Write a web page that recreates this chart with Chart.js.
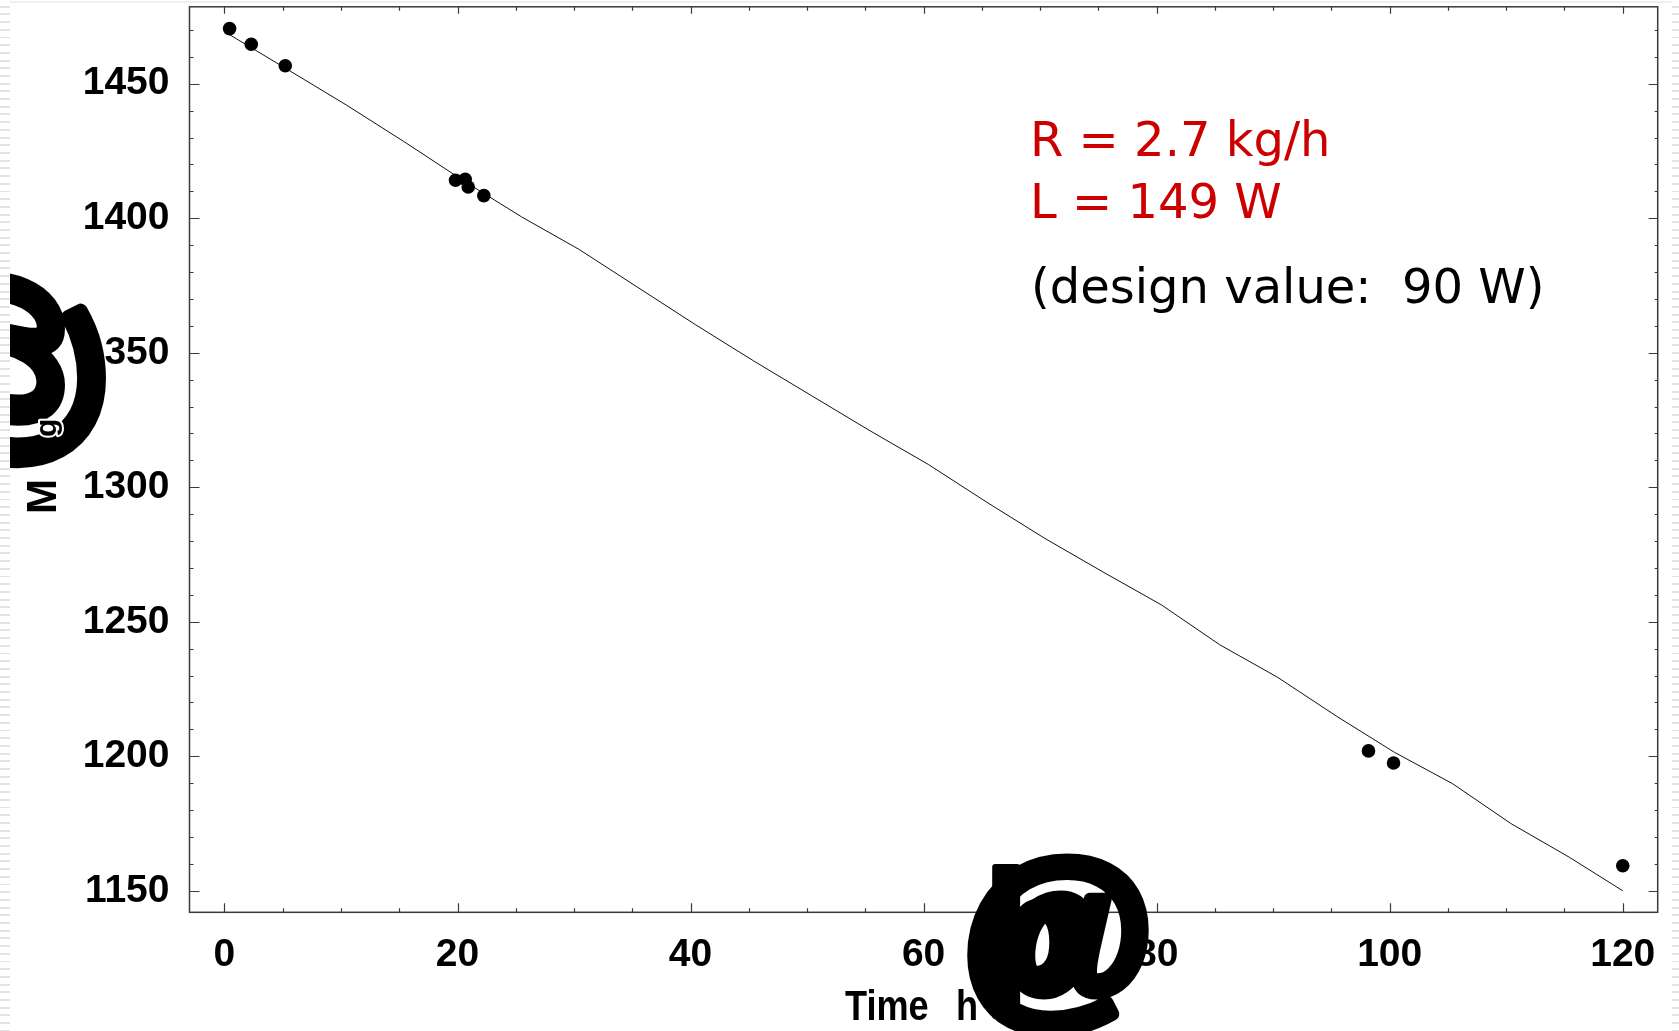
<!DOCTYPE html>
<html>
<head>
<meta charset="utf-8">
<title>Mass vs time</title>
<script src="https://cdn.jsdelivr.net/npm/chart.js@4/dist/chart.umd.min.js"></script>
<style>
  html, body { margin: 0; padding: 0; background: #fff; overflow: hidden; }
  #wrap { position: relative; width: 1679px; height: 1031px; }
  #wrap canvas { display: block; }
  .edge { position: absolute; top: 0; bottom: 0;
          background: repeating-linear-gradient(to bottom, #fff 0, #fff 5.7px, #e3e3e3 5.7px, #e3e3e3 7.7px); }
  .topline { position: absolute; left: 0; right: 0; top: 1px; height: 2px; background: #efefef; }
</style>
</head>
<body>
<div id="wrap">
  <canvas id="c" width="1679" height="1031"></canvas>
  <div class="topline"></div>
  <div class="edge" style="left:0;width:10px"></div>
  <div class="edge" style="left:1672px;width:7px"></div>
</div>
<script>
// Measured mass of the vessel (kg) against elapsed time (h)
const timeH  = [0.44, 2.30, 5.22, 19.83, 20.66, 20.92, 22.26, 98.18, 100.33, 120.0];
const massKg = [1470.5, 1464.7, 1456.7, 1414.1, 1414.5, 1411.6, 1408.4, 1202.0, 1197.5, 1159.3];

// Model curve of the mass loss
const fitTime = [0.3, 5.3, 10.5, 15.4, 20.5, 25.5, 30.4, 35.4, 40.4, 45.4, 50.4, 55.4, 60.4,
                 65.4, 70.4, 75.4, 80.4, 85.4, 90.4, 95.4, 100.4, 105.4, 110.4, 115.4, 120];
const fitMass = [1468.6, 1455.6, 1442.0, 1428.5, 1414.0, 1400.5, 1388.5, 1374.5, 1360.5, 1347.0,
                 1334.0, 1321.0, 1308.5, 1294.5, 1281.0, 1268.5, 1256.3, 1241.5, 1229.3, 1215.0,
                 1201.5, 1189.8, 1175.0, 1162.5, 1150.0];

// Axis ticks
const xTicks = [0, 20, 40, 60, 80, 100, 120];
const xMinorTicks = [5, 10, 15, 25, 30, 35, 45, 50, 55, 65, 70, 75, 85, 90, 95, 105, 110, 115];
const yTicks = [1150, 1200, 1250, 1300, 1350, 1400, 1450];
const yMinorTicks = [1160, 1170, 1180, 1190, 1210, 1220, 1230, 1240, 1260, 1270, 1280, 1290,
                     1310, 1320, 1330, 1340, 1360, 1370, 1380, 1390, 1410, 1420, 1430, 1440, 1460, 1470];

// Result annotations
const resultLines = ['R = 2.7 kg/h', 'L = 149 W'];
const noteLine = '(design value:  90 W)';

const AXIS = '#3a3a3a';
const SANS_BOLD = (s) => `bold ${s}px "Liberation Sans", Arial, sans-serif`;

// heavy glyph used where the unit brackets fell back to a symbol font
function heavyGlyph(ctx, ch, x, y, size, stroke) {
  ctx.font = SANS_BOLD(size);
  ctx.lineWidth = stroke;
  ctx.lineJoin = 'round';
  ctx.strokeStyle = '#000';
  ctx.strokeText(ch, x, y);
  ctx.fillText(ch, x, y);
}

// Frame, inward ticks, annotations and axis titles
const framePlugin = {
  id: 'frame',
  beforeDatasetsDraw(chart) {
    const { ctx, chartArea: a, scales: { x, y } } = chart;
    ctx.save();
    ctx.strokeStyle = AXIS;
    ctx.lineWidth = 1.5;
    ctx.strokeRect(a.left, a.top, a.right - a.left, a.bottom - a.top);
    ctx.lineWidth = 1.2;
    ctx.beginPath();
    const vt = (v, len, top) => {
      const px = Math.round(x.getPixelForValue(v)) + 0.5;
      if (top) { ctx.moveTo(px, a.top); ctx.lineTo(px, a.top + len); }
      else { ctx.moveTo(px, a.bottom); ctx.lineTo(px, a.bottom - len); }
    };
    const ht = (v, len, right) => {
      const py = Math.round(y.getPixelForValue(v)) + 0.5;
      if (right) { ctx.moveTo(a.right, py); ctx.lineTo(a.right - len, py); }
      else { ctx.moveTo(a.left, py); ctx.lineTo(a.left + len, py); }
    };
    xTicks.forEach(v => { vt(v, 9, false); vt(v, 7, true); });
    xMinorTicks.forEach(v => { vt(v, 4, false); vt(v, 4, true); });
    yTicks.forEach(v => { ht(v, 10, false); ht(v, 9, true); });
    yMinorTicks.forEach(v => { ht(v, 4, false); ht(v, 3, true); });
    ctx.stroke();
    ctx.restore();
  },
  afterDraw(chart) {
    const { ctx } = chart;
    ctx.save();
    ctx.textBaseline = 'alphabetic';
    ctx.textAlign = 'left';

    // results
    ctx.font = '48px "DejaVu Sans", Verdana, sans-serif';
    ctx.fillStyle = '#cc0000';
    ctx.fillText(resultLines[0], 1030, 156);
    ctx.fillText(resultLines[1], 1030, 217.5);
    ctx.fillStyle = '#000';
    ctx.fillText(noteLine, 1031, 303);

    // x-axis title
    ctx.save();
    ctx.translate(845, 1020);
    ctx.scale(0.86, 1);
    ctx.font = SANS_BOLD(42);
    ctx.fillText('Time', 0, 0);
    ctx.restore();
    ctx.save();
    ctx.translate(956, 1020);
    ctx.scale(0.86, 1);
    ctx.font = SANS_BOLD(42);
    ctx.fillText('h', 0, 0);
    ctx.restore();
    ctx.textAlign = 'center';
    ctx.textBaseline = 'middle';
    heavyGlyph(ctx, '@', 1058, 946, 196, 13);
    ctx.textAlign = 'left';
    ctx.textBaseline = 'alphabetic';
    heavyGlyph(ctx, '\u00fe', 984, 983, 160, 6);

    // y-axis title
    ctx.save();
    ctx.translate(56, 514);
    ctx.rotate(-Math.PI / 2);
    ctx.font = SANS_BOLD(42);
    ctx.fillText('M', 0, 0);
    ctx.textAlign = 'center';
    ctx.textBaseline = 'middle';
    heavyGlyph(ctx, '@', 144, -49, 212, 14);
    ctx.textAlign = 'left';
    ctx.textBaseline = 'alphabetic';
    ctx.font = SANS_BOLD(30);
    ctx.lineWidth = 4;
    ctx.strokeStyle = '#fff';
    ctx.strokeText('g', 77, 0);
    ctx.fillText('g', 77, 0);
    ctx.restore();

    ctx.restore();
  }
};

const ctx = document.getElementById('c').getContext('2d');
new Chart(ctx, {
  type: 'scatter',
  data: {
    datasets: [
      {
        label: 'Measured',
        data: timeH.map((t, i) => ({ x: t, y: massKg[i] })),
        pointRadius: 6.8,
        pointHoverRadius: 6.8,
        pointBackgroundColor: '#000',
        pointBorderColor: '#000',
        pointBorderWidth: 0,
        showLine: false,
        order: 0
      },
      {
        label: 'Model',
        data: fitTime.map((t, i) => ({ x: t, y: fitMass[i] })),
        showLine: true,
        pointRadius: 0,
        borderColor: '#111',
        borderWidth: 1,
        fill: false,
        tension: 0,
        order: 1
      }
    ]
  },
  options: {
    responsive: false,
    animation: false,
    devicePixelRatio: 1,
    layout: { padding: { top: 6.4, right: 21.3, bottom: 0, left: 0 } },
    plugins: { legend: { display: false }, tooltip: { enabled: false } },
    scales: {
      x: {
        type: 'linear',
        min: -3,
        max: 123,
        afterBuildTicks: (axis) => { axis.ticks = xTicks.map(v => ({ value: v })); },
        afterFit: (axis) => {
          axis.height = 118.7;
          axis.paddingLeft = 0; axis.paddingRight = 0;
          axis.paddingTop = 0; axis.paddingBottom = 0;
        },
        grid: { display: false, drawTicks: false },
        border: { display: false },
        ticks: {
          padding: 20,
          maxRotation: 0,
          autoSkip: false,
          color: '#000',
          font: { family: '"Liberation Sans", Arial, sans-serif', size: 39, weight: 'bold' },
          callback: (v) => String(v)
        }
      },
      y: {
        type: 'linear',
        min: 1142,
        max: 1478.6,
        afterBuildTicks: (axis) => { axis.ticks = yTicks.map(v => ({ value: v })); },
        afterFit: (axis) => {
          axis.width = 189.5;
          axis.paddingLeft = 0; axis.paddingRight = 0;
          axis.paddingTop = 0; axis.paddingBottom = 0;
        },
        grid: { display: false, drawTicks: false },
        border: { display: false },
        ticks: {
          padding: 20,
          color: '#000',
          font: { family: '"Liberation Sans", Arial, sans-serif', size: 39, weight: 'bold' },
          callback: (v) => String(v)
        }
      }
    }
  },
  plugins: [framePlugin]
});
</script>
</body>
</html>
